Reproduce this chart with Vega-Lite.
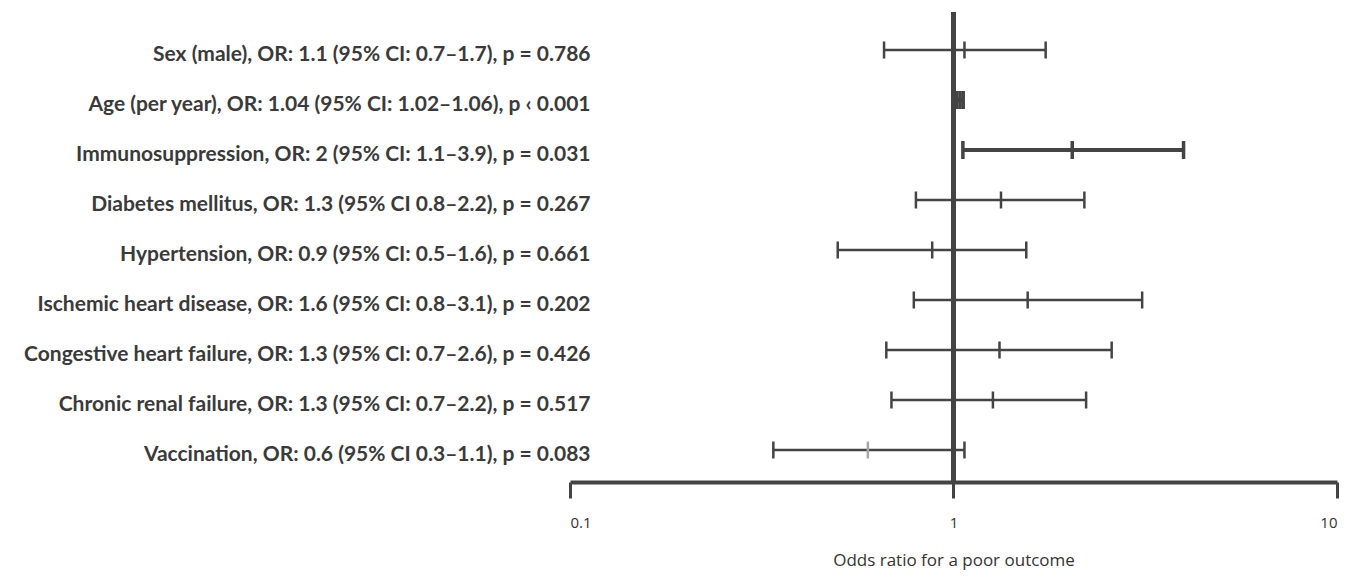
{
  "$schema": "https://vega.github.io/schema/vega-lite/v6.json",
  "width": 767,
  "height": 470,
  "autosize": {"type": "none"},
  "padding": {"left": 570, "top": 12, "right": 16, "bottom": 97},
  "background": "white",
  "config": {"view": {"stroke": null}},
  "data": {
    "values": [
      {"label": "Sex (male), OR: 1.1 (95% CI: 0.7–1.7), p = 0.786", "lo": 0.659, "mid": 1.068, "hi": 1.739, "p": 0.786},
      {"label": "Age (per year), OR: 1.04 (95% CI: 1.02–1.06), p ‹ 0.001", "lo": 1.02, "mid": 1.04, "hi": 1.06, "p": 0.001},
      {"label": "Immunosuppression, OR: 2 (95% CI: 1.1–3.9), p = 0.031", "lo": 1.058, "mid": 2.04, "hi": 3.98, "p": 0.031},
      {"label": "Diabetes mellitus, OR: 1.3 (95% CI 0.8–2.2), p = 0.267", "lo": 0.798, "mid": 1.33, "hi": 2.194, "p": 0.267},
      {"label": "Hypertension, OR: 0.9 (95% CI: 0.5–1.6), p = 0.661", "lo": 0.499, "mid": 0.88, "hi": 1.548, "p": 0.661},
      {"label": "Ischemic heart disease, OR: 1.6 (95% CI: 0.8–3.1), p = 0.202", "lo": 0.788, "mid": 1.561, "hi": 3.104, "p": 0.202},
      {"label": "Congestive heart failure, OR: 1.3 (95% CI: 0.7–2.6), p = 0.426", "lo": 0.668, "mid": 1.318, "hi": 2.585, "p": 0.426},
      {"label": "Chronic renal failure, OR: 1.3 (95% CI: 0.7–2.2), p = 0.517", "lo": 0.689, "mid": 1.267, "hi": 2.217, "p": 0.517},
      {"label": "Vaccination, OR: 0.6 (95% CI 0.3–1.1), p = 0.083", "lo": 0.339, "mid": 0.598, "hi": 1.068, "p": 0.083}
    ]
  },
  "encoding": {
    "y": {
      "field": "label",
      "type": "nominal",
      "sort": null,
      "scale": {"type": "point", "range": [38, 438], "padding": 0},
      "axis": {
        "title": null,
        "domain": false,
        "ticks": false,
        "labelPadding": -20,
        "labelLimit": 0,
        "labelFont": "Lato",
        "labelFontWeight": "bold",
        "labelFontSize": 21,
        "labelColor": "#3a3a3a",
        "labelAlign": "right",
        "labelBaseline": "middle",
        "labelOffset": 4
      }
    }
  },
  "layer": [
    {
      "mark": {"type": "rule", "color": "#444444", "strokeWidth": 4},
      "encoding": {
        "x": {"datum": 1, "type": "quantitative", "scale": {"type": "log", "domain": [0.1, 10]}},
        "y": {"value": 0},
        "y2": {"value": 470}
      }
    },
    {
      "mark": {"type": "rule", "color": "#444444"},
      "encoding": {
        "x": {
          "field": "lo",
          "type": "quantitative",
          "scale": {"type": "log", "domain": [0.1, 10], "nice": false},
          "axis": {
            "values": [0.1, 1, 10],
            "format": "~g",
            "domainColor": "#444444",
            "domainWidth": 4,
            "tickColor": "#444444",
            "tickWidth": 3,
            "tickSize": 16,
            "labelFont": "Open Sans",
            "labelFontSize": 15,
            "labelColor": "#333333",
            "labelPadding": 17,
            "grid": false,
            "title": "Odds ratio for a poor outcome",
            "titleFont": "Open Sans",
            "titleFontSize": 17,
            "titleFontWeight": "normal",
            "titleColor": "#333333",
            "titlePadding": 22
          }
        },
        "x2": {"field": "hi"},
        "strokeWidth": {"condition": {"test": "datum.p < 0.05", "value": 4}, "value": 2.5}
      }
    },
    {
      "transform": [
        {"filter": "datum.p >= 0.05"},
        {"fold": ["lo", "mid", "hi"], "as": ["key", "v"]}
      ],
      "mark": {"type": "tick", "thickness": 2.5, "size": 17, "opacity": 1},
      "encoding": {
        "x": {"field": "v", "type": "quantitative"},
        "color": {
          "condition": {"test": "datum.key === 'mid' && datum.p > 0.08 && datum.p < 0.09", "value": "#a6a6a6"},
          "value": "#444444"
        }
      }
    },
    {
      "transform": [
        {"filter": "datum.p < 0.05"},
        {"fold": ["lo", "mid", "hi"], "as": ["key", "v"]}
      ],
      "mark": {"type": "tick", "thickness": 3.5, "size": 18, "color": "#444444", "opacity": 1},
      "encoding": {
        "x": {"field": "v", "type": "quantitative"}
      }
    }
  ]
}
